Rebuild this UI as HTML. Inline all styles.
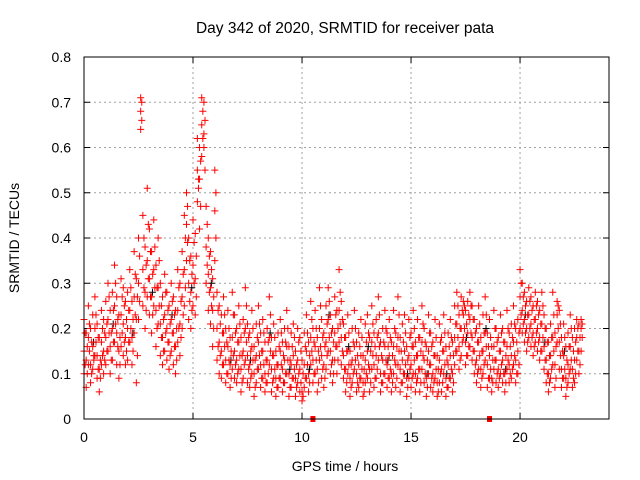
<!DOCTYPE html>
<html><head><meta charset="utf-8"><style>
html,body{margin:0;padding:0;background:#fff;}
svg{display:block;font-family:"Liberation Sans",sans-serif;}
</style></head><body>
<svg id="chart" width="640" height="480" viewBox="0 0 640 480">
<rect width="640" height="480" fill="#fff"/>
<text x="345" y="33" font-size="15.5" text-anchor="middle" fill="#000">Day 342 of 2020, SRMTID for receiver pata</text>
<text transform="translate(19,238) rotate(-90)" font-size="14" text-anchor="middle" fill="#000">SRMTID / TECUs</text>
<text x="345" y="471" font-size="14" text-anchor="middle" fill="#000">GPS time / hours</text>
<g id="grid"></g>
<g id="ticks"></g>
<g id="marks"></g>
<rect x="84" y="57" width="525" height="362" fill="none" stroke="#000" stroke-width="1"/>
</svg>
<script>
const yTicks = [0,0.1,0.2,0.3,0.4,0.5,0.6,0.7,0.8];
const yTickLabels = ["0","0.1","0.2","0.3","0.4","0.5","0.6","0.7","0.8"];
const xTicks = [0,5,10,15,20];
const xTickLabels = ["0","5","10","15","20"];
const timeStart = 0;
const timeStep = 0.1;
const seriesA = [
.15,.13,.18,.12,.16,.20,.14,.11,.17,.15,
.18,.22,.16,.20,.25,.19,.15,.23,.21,.18,
.20,.24,.18,.27,.22,.30,.68,.33,.28,.35,
.31,.27,.33,.24,.29,.21,.18,.23,.20,.17,
.22,.19,.16,.24,.21,.27,.33,.43,.30,.28,
.34,.31,.55,.60,.65,.70,.38,.32,.29,.24,
.46,.20,.17,.15,.19,.13,.16,.12,.18,.15,
.13,.17,.11,.15,.20,.14,.12,.16,.10,.14,
.17,.12,.15,.10,.13,.18,.11,.14,.09,.12,
.15,.11,.13,.16,.10,.12,.14,.09,.13,.11,
.06,.12,.15,.10,.18,.13,.16,.11,.20,.14,
.12,.17,.22,.15,.13,.19,.16,.24,.18,.14,
.11,.15,.09,.13,.16,.10,.12,.14,.08,.13,
.15,.11,.17,.12,.14,.19,.10,.13,.16,.12,
.14,.10,.16,.12,.18,.11,.13,.15,.09,.14,
.12,.16,.10,.14,.11,.17,.13,.09,.15,.12,
.10,.14,.08,.13,.11,.15,.09,.12,.14,.10,
.18,.21,.16,.20,.23,.17,.19,.22,.18,.15,
.13,.17,.11,.15,.19,.12,.14,.09,.16,.13,
.11,.15,.13,.10,.16,.12,.14,.17,.13,.15,
.27,.24,.22,.20,.23,.21,.19,.22,.20,.18,
.21,.16,.13,.10,.14,.18,.12,.23,.17,.11,
.14,.09,.12,.16,.11,.13,.18,.15,.20];
const seriesB = [
.22,.19,.25,.20,.23,.27,.21,.18,.24,.22,
.26,.30,.24,.28,.34,.27,.23,.31,.29,.26,
.28,.33,.26,.37,.31,.40,.71,.45,.38,.51,
.42,.37,.44,.34,.40,.30,.27,.32,.28,.25,
.30,.27,.24,.33,.30,.37,.45,.50,.40,.36,
.44,.41,.62,.53,.71,.63,.47,.40,.37,.31,
.55,.28,.25,.23,.27,.20,.24,.18,.28,.23,
.20,.25,.18,.22,.29,.21,.19,.24,.16,.21,
.25,.19,.22,.17,.20,.27,.18,.21,.15,.19,
.22,.17,.20,.24,.16,.19,.21,.15,.20,.18,
.13,.19,.23,.17,.26,.20,.24,.18,.29,.22,
.19,.25,.29,.23,.20,.27,.24,.33,.26,.21,
.18,.23,.15,.20,.24,.17,.19,.22,.14,.21,
.23,.18,.25,.19,.22,.27,.17,.20,.24,.19,
.22,.17,.24,.19,.27,.18,.21,.23,.16,.22,
.19,.24,.17,.22,.18,.25,.20,.16,.23,.19,
.17,.22,.14,.21,.18,.23,.16,.19,.22,.17,
.25,.28,.23,.27,.26,.24,.26,.28,.25,.22,
.20,.25,.18,.23,.27,.19,.22,.16,.24,.20,
.18,.23,.20,.17,.24,.19,.21,.25,.20,.22,
.33,.30,.28,.26,.29,.27,.25,.28,.26,.24,
.28,.23,.20,.17,.21,.28,.19,.26,.24,.18,
.21,.16,.19,.23,.18,.20,.22,.21,.22];
const seriesC = [
.10,.07,.12,.08,.11,.14,.09,.06,.12,.10,
.12,.15,.10,.13,.17,.12,.09,.16,.14,.12,
.13,.17,.12,.19,.08,.22,.64,.25,.20,.27,
.23,.19,.25,.16,.21,.14,.12,.15,.13,.11,
.15,.12,.10,.17,.14,.20,.25,.35,.22,.20,
.25,.23,.48,.42,.58,.60,.30,.24,.21,.16,
.35,.13,.10,.09,.12,.08,.10,.07,.11,.09,
.08,.11,.06,.09,.13,.08,.07,.10,.05,.08,
.11,.07,.09,.06,.08,.12,.06,.09,.05,.07,
.09,.06,.08,.10,.05,.07,.09,.05,.08,.06,
.04,.07,.09,.06,.12,.08,.10,.06,.13,.09,
.07,.11,.15,.10,.08,.13,.10,.17,.12,.09,
.06,.10,.05,.08,.11,.06,.07,.09,.05,.08,
.09,.06,.11,.07,.09,.13,.06,.08,.10,.07,
.09,.06,.10,.07,.12,.06,.08,.10,.05,.09,
.07,.10,.06,.09,.06,.11,.08,.05,.10,.07,
.06,.09,.05,.08,.06,.10,.05,.07,.09,.06,
.12,.15,.11,.14,.18,.12,.14,.16,.13,.10,
.08,.11,.07,.10,.13,.07,.09,.06,.11,.08,
.07,.10,.08,.06,.11,.08,.09,.12,.08,.10,
.20,.19,.17,.15,.18,.16,.14,.17,.15,.13,
.15,.11,.08,.06,.09,.12,.07,.17,.11,.07,
.09,.05,.08,.11,.07,.08,.13,.10,.15];
const seriesD = [
.19,.16,.21,.17,.14,.23,.18,.13,.20,.19,
.21,.27,.19,.24,.30,.22,.18,.27,.25,.22,
.24,.29,.22,.32,.27,.36,.70,.40,.34,.43,
.37,.32,.38,.29,.35,.25,.22,.28,.24,.21,
.26,.23,.20,.29,.26,.32,.40,.47,.35,.32,
.39,.36,.53,.57,.68,.66,.43,.36,.33,.27,
.50,.24,.21,.19,.23,.17,.20,.15,.23,.19,
.17,.21,.14,.19,.25,.18,.15,.20,.13,.18,
.21,.15,.19,.13,.17,.23,.14,.18,.12,.16,
.19,.14,.17,.20,.13,.16,.18,.12,.17,.15,
.10,.16,.19,.14,.22,.17,.20,.15,.25,.18,
.16,.21,.26,.19,.17,.23,.20,.28,.22,.18,
.15,.19,.12,.17,.20,.14,.16,.18,.11,.17,
.19,.15,.21,.16,.18,.23,.14,.17,.20,.16,
.18,.14,.20,.16,.23,.15,.17,.19,.13,.18,
.16,.20,.14,.18,.15,.21,.17,.13,.19,.16,
.14,.18,.11,.17,.15,.19,.13,.16,.18,.14,
.21,.25,.20,.24,.25,.21,.23,.25,.22,.19,
.17,.21,.15,.19,.23,.16,.18,.13,.20,.17,
.15,.19,.17,.14,.20,.16,.18,.21,.17,.19,
.30,.27,.25,.23,.26,.24,.22,.25,.23,.21,
.25,.20,.17,.14,.18,.23,.16,.25,.21,.15,
.18,.13,.16,.20,.15,.17,.20,.18,.21];
const seriesE = [
.12,.10,.15,.10,.13,.17,.11,.09,.14,.13,
.15,.19,.13,.17,.21,.16,.12,.19,.17,.15,
.17,.20,.15,.23,.14,.26,.66,.29,.24,.31,
.27,.23,.29,.20,.25,.18,.15,.19,.17,.14,
.19,.16,.13,.20,.18,.23,.29,.39,.26,.24,
.30,.27,.51,.47,.62,.55,.34,.28,.25,.20,
.40,.16,.14,.12,.16,.10,.13,.09,.14,.12,
.10,.14,.08,.12,.17,.11,.09,.13,.07,.11,
.14,.09,.12,.08,.10,.15,.08,.11,.07,.09,
.12,.08,.10,.13,.07,.09,.11,.07,.10,.08,
.05,.09,.12,.08,.15,.10,.13,.08,.16,.11,
.09,.14,.18,.12,.10,.16,.13,.21,.15,.11,
.08,.12,.07,.10,.13,.08,.09,.11,.06,.10,
.12,.08,.14,.09,.11,.16,.08,.10,.13,.09,
.11,.08,.13,.09,.15,.08,.10,.12,.07,.11,
.09,.13,.08,.11,.08,.14,.10,.07,.12,.09,
.08,.11,.06,.10,.08,.12,.07,.09,.11,.08,
.15,.18,.13,.17,.20,.14,.16,.19,.15,.12,
.10,.14,.09,.12,.16,.09,.11,.08,.13,.10,
.09,.12,.10,.08,.13,.10,.11,.14,.10,.12,
.23,.21,.19,.17,.20,.18,.16,.19,.17,.15,
.18,.13,.10,.08,.11,.15,.09,.20,.14,.09,
.11,.07,.10,.13,.09,.10,.15,.12,.18];
const gapTimes = [10.5, 18.6];

const X0=84, X1=609, Y0=419, Y1=57, XMAX=24.08, YMAX=0.8;
const NS="http://www.w3.org/2000/svg";
function xs(v){return X0+(X1-X0)*v/XMAX;}
function ys(v){return Y0-(Y0-Y1)*v/YMAX;}
function mk(tag,attrs,parent){const e=document.createElementNS(NS,tag);for(const k in attrs)e.setAttribute(k,attrs[k]);parent.appendChild(e);return e;}
const grid=document.getElementById('grid'), ticks=document.getElementById('ticks'), marks=document.getElementById('marks');
yTicks.forEach((v,i)=>{
  const y=ys(v);
  if(i>0&&i<yTicks.length-1){
    const g=mk('line',{x1:X0,x2:X1,y1:y,y2:y,stroke:'#a0a0a0','stroke-dasharray':'2,3','stroke-width':1},grid);
    
    
  }
  mk('line',{x1:X0,x2:X0+6,y1:y,y2:y,stroke:'#000'},ticks);
  mk('line',{x1:X1,x2:X1-6,y1:y,y2:y,stroke:'#000'},ticks);
  const t=mk('text',{x:X0-13,y:y+5,'font-size':14,'text-anchor':'end',fill:'#000'},ticks);
  t.textContent=yTickLabels[i];
  
  
});
xTicks.forEach((v,i)=>{
  const x=xs(v);
  if(i>0){
    const g=mk('line',{x1:x,x2:x,y1:Y0,y2:Y1,stroke:'#a0a0a0','stroke-dasharray':'2,3','stroke-width':1},grid);
    
    
  }
  mk('line',{x1:x,x2:x,y1:Y0,y2:Y0-6,stroke:'#000'},ticks);
  mk('line',{x1:x,x2:x,y1:Y1,y2:Y1+6,stroke:'#000'},ticks);
  const t=mk('text',{x:x,y:Y0+23,'font-size':14,'text-anchor':'middle',fill:'#000'},ticks);
  t.textContent=xTickLabels[i];
  
  
});
function plus(t,v,color){
  const x=xs(t), y=ys(v);
  const p=mk('path',{d:`M${x-3.5},${y}h7M${x},${y-3.5}v7`,stroke:color,'stroke-width':1,fill:'none'},marks);
  
  
}
[seriesA,seriesB,seriesC].forEach((s,si)=>{
  s.forEach((v,i)=>{
    const t=timeStart+i*timeStep;
    if(si===0 && i%9===4) plus(t+0.04,v+0.01,'#000');
    plus(t,v,'#ff0000');
  });
});
[seriesD,seriesE].forEach(s=>{
  s.forEach((v,i)=>{
    plus(timeStart+i*timeStep+timeStep/2,v,'#ff0000');
  });
});
gapTimes.forEach(t=>{
  const r=mk('rect',{x:xs(t)-2.5,y:Y0-3,width:5,height:6,fill:'#ff0000'},marks);
  
  
});
</script>
</body></html>
